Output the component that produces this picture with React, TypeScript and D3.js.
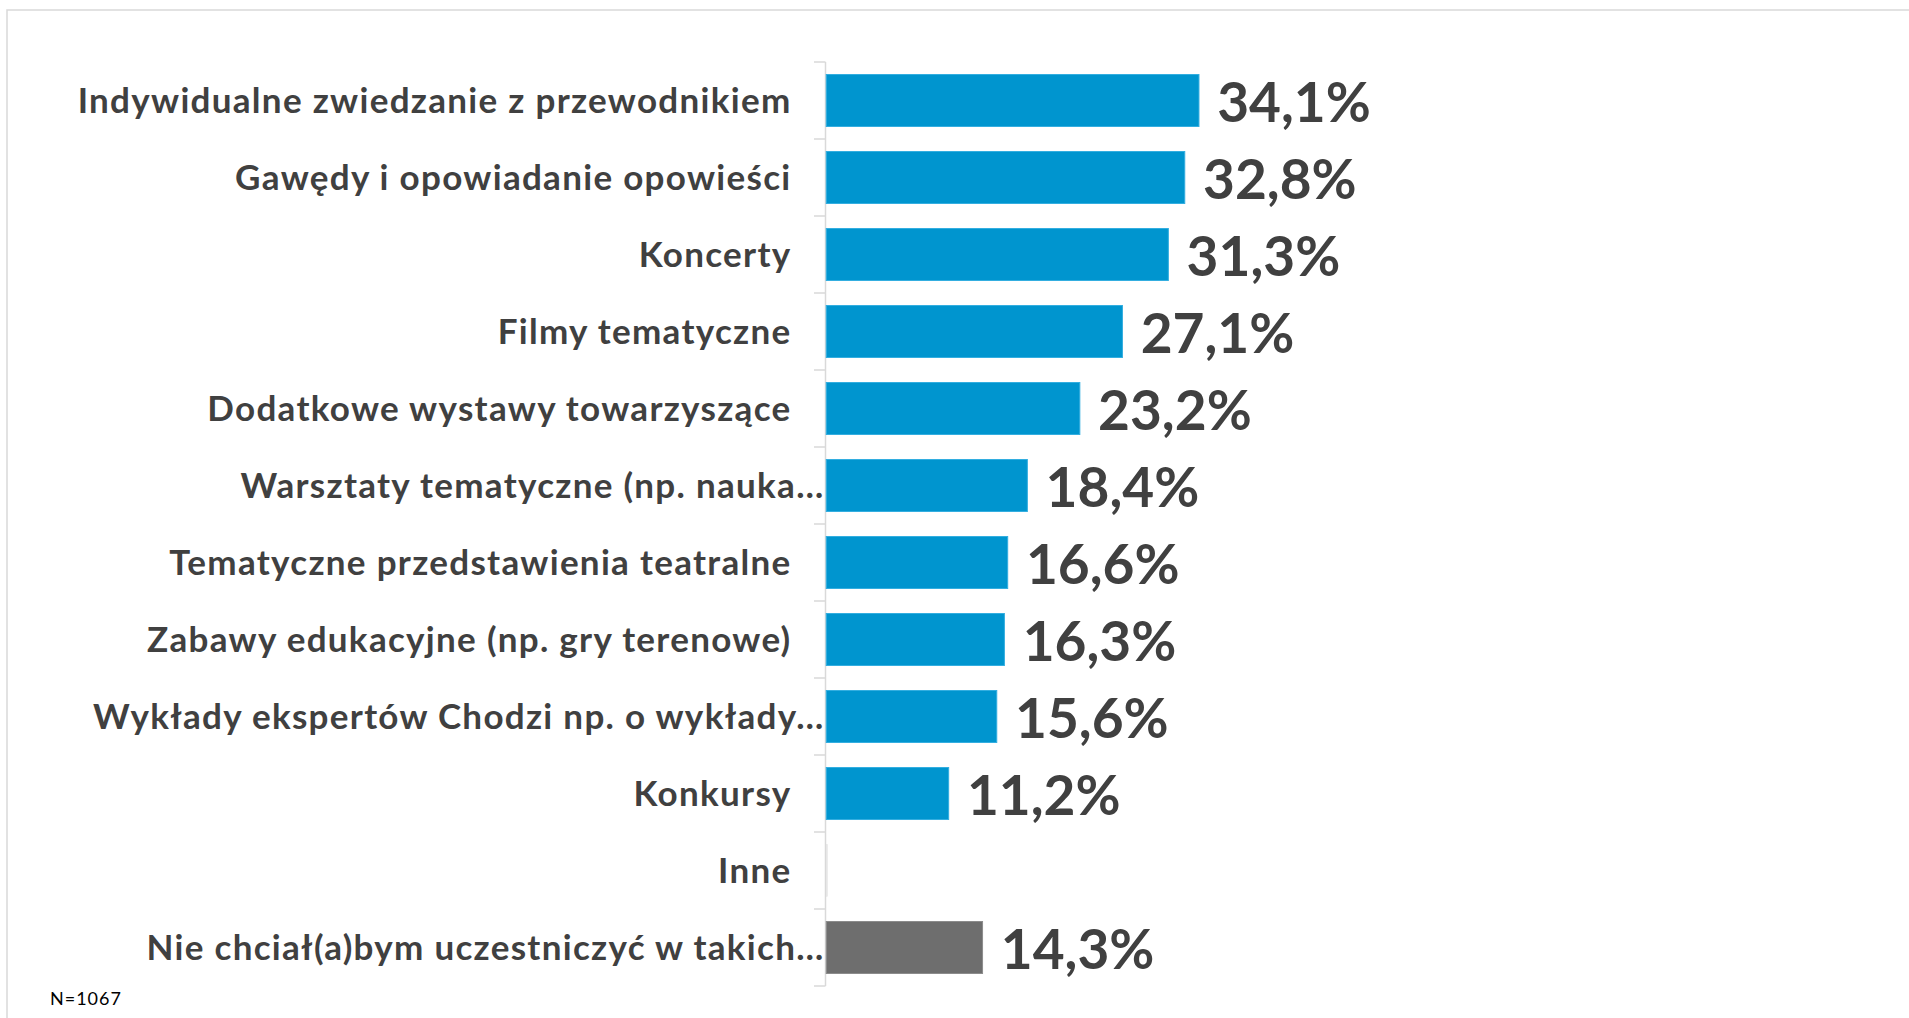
import React from "react";
import * as d3 from "d3";

const categories = [
  "Indywidualne zwiedzanie z przewodnikiem",
  "Gawędy i opowiadanie opowieści",
  "Koncerty",
  "Filmy tematyczne",
  "Dodatkowe wystawy towarzyszące",
  "Warsztaty tematyczne (np. nauka…",
  "Tematyczne przedstawienia teatralne",
  "Zabawy edukacyjne (np. gry terenowe)",
  "Wykłady ekspertów Chodzi np. o wykłady…",
  "Konkursy",
  "Inne",
  "Nie chciał(a)bym uczestniczyć w takich…",
];
const values = [34.1, 32.8, 31.3, 27.1, 23.2, 18.4, 16.6, 16.3, 15.6, 11.2, 0.1, 14.3];
const valueLabels = ["34,1%", "32,8%", "31,3%", "27,1%", "23,2%", "18,4%", "16,6%", "16,3%", "15,6%", "11,2%", "", "14,3%"];
const isNegative = [false, false, false, false, false, false, false, false, false, false, false, true];
const note = "N=1067";

const W = 1909;
const H = 1018;
const axisX = 825.5;
const top = 62;
const bottom = 986;

export default function App() {
  const y = d3
    .scaleBand<string>()
    .domain(categories)
    .range([top, bottom])
    .paddingInner(0.325)
    .paddingOuter(0.1625);
  const x = d3.scaleLinear().domain([0, 40]).range([axisX, axisX + 10.93 * 40]);
  const step = y.step();
  const ticks = d3.range(categories.length + 1).map((i) => top + i * step);
  const font = "Lato, 'Open Sans', sans-serif";
  const textColor = "#404040";

  return (
    <svg
      width={W}
      height={H}
      style={{ position: "absolute", left: 0, top: 0, background: "#fff" }}
    >
      <rect x={0} y={0} width={W} height={H} fill="#fff" />
      <rect x={7} y={10} width={W + 20} height={H + 20} fill="none" stroke="#d9d9d9" strokeWidth={1.5} />
      {/* axis */}
      <line x1={axisX} x2={axisX} y1={top} y2={bottom} stroke="#d9d9d9" strokeWidth={1.5} />
      {ticks.map((t, i) => (
        <line key={i} x1={axisX - 11.5} x2={axisX} y1={t} y2={t} stroke="#d9d9d9" strokeWidth={1.5} />
      ))}
      {categories.map((c, i) => {
        const by = y(c)!;
        const bh = y.bandwidth();
        const cy = by + bh / 2;
        const truncated = c.endsWith("…");
        const tiny = values[i] < 1;
        return (
          <g key={c}>
            <rect
              x={x(0) + 0.75}
              y={by}
              width={Math.max(0, x(values[i]) - x(0))}
              height={bh}
              fill={isNegative[i] ? "#6E6E6E" : tiny ? "#e3e3e3" : "#0095CF"}
              stroke={isNegative[i] ? "#8c8c8c" : tiny ? "#e3e3e3" : "#33aee0"}
              strokeWidth={tiny ? 0.5 : 1}
            />
            <text
              x={truncated ? axisX - 1 : axisX - 34}
              y={cy + 12.6}
              textAnchor="end"
              fontFamily={font}
              fontWeight={700}
              fontSize={35}
              letterSpacing={1.3}
              fill={textColor}
            >
              {c}
            </text>
            {valueLabels[i] && (
              <text
                x={x(values[i]) + 19}
                y={cy + 21}
                fontFamily={font}
                fontWeight={700}
                fontSize={55}
                fill={textColor}
              >
                {valueLabels[i]}
              </text>
            )}
          </g>
        );
      })}
      <text x={50} y={1005} fontFamily={font} fontSize={18} letterSpacing={1} fill="#000">
        {note}
      </text>
    </svg>
  );
}
